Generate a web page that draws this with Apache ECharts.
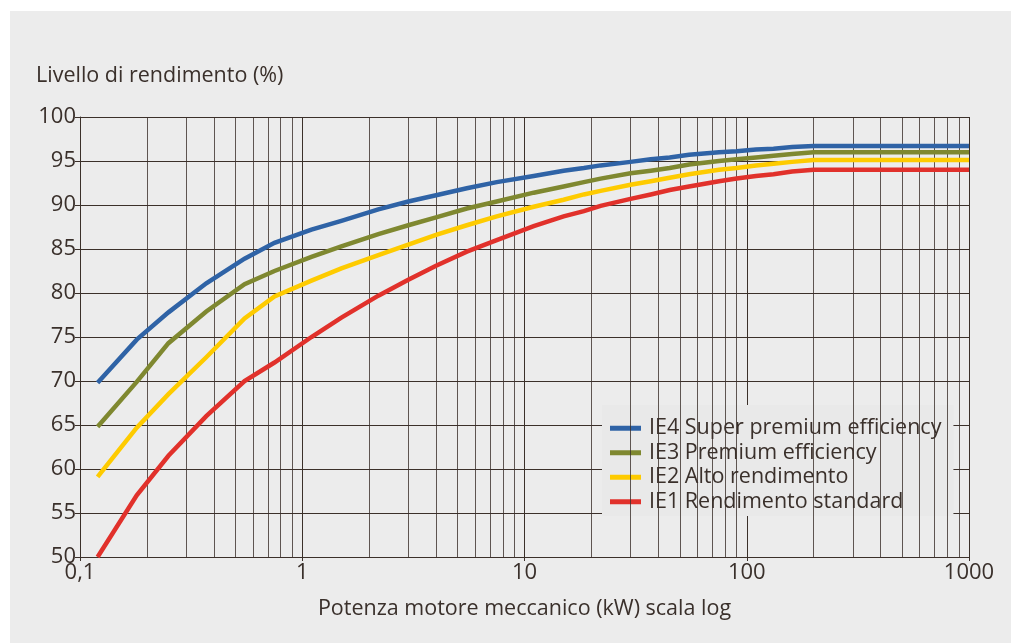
<!DOCTYPE html>
<html>
<head>
<meta charset="utf-8">
<script src="https://cdn.jsdelivr.net/npm/echarts@6/dist/echarts.min.js"></script>
<style>
  html, body { margin: 0; padding: 0; background: #ffffff; }
  #panel { position: absolute; left: 10px; top: 11px; width: 1001px; height: 632px; background: #ececec; }
  #chart { position: absolute; left: 0; top: 0; width: 1011px; height: 643px; }
</style>
</head>
<body>
<div id="panel"></div>
<div id="chart"></div>
<script>
// Rated motor power (kW)
const powers = [0.12, 0.18, 0.25, 0.37, 0.55, 0.75, 1.1, 1.5, 2.2, 3, 4, 5.5, 7.5, 11, 15, 18.5, 22, 30, 37, 45, 55, 75, 90, 110, 132, 160, 200, 1000];
// Efficiency levels (%)
const ie4 = [69.8, 74.7, 77.8, 81.1, 83.9, 85.7, 87.2, 88.2, 89.5, 90.4, 91.1, 91.9, 92.6, 93.3, 93.9, 94.2, 94.5, 94.9, 95.2, 95.4, 95.7, 96.0, 96.1, 96.3, 96.4, 96.6, 96.7, 96.7];
const ie3 = [64.8, 69.9, 74.3, 77.9, 81.0, 82.5, 84.1, 85.3, 86.7, 87.7, 88.6, 89.6, 90.4, 91.4, 92.1, 92.6, 93.0, 93.6, 93.9, 94.2, 94.6, 95.0, 95.2, 95.4, 95.6, 95.8, 96.0, 96.0];
const ie2 = [59.1, 64.7, 68.5, 72.7, 77.1, 79.6, 81.4, 82.8, 84.3, 85.5, 86.6, 87.7, 88.7, 89.8, 90.6, 91.2, 91.6, 92.3, 92.7, 93.1, 93.5, 94.0, 94.2, 94.5, 94.7, 94.9, 95.1, 95.1];
const ie1 = [50.0, 57.0, 61.5, 66.0, 70.0, 72.1, 75.0, 77.2, 79.7, 81.5, 83.1, 84.7, 86.0, 87.6, 88.7, 89.3, 89.9, 90.7, 91.2, 91.7, 92.1, 92.7, 93.0, 93.3, 93.5, 93.8, 94.0, 94.0];

const seriesNames = ['IE4 Super premium efficiency', 'IE3 Premium efficiency', 'IE2 Alto rendimento', 'IE1 Rendimento standard'];
const seriesColors = ['#2f63a6', '#7f8830', '#fecb00', '#e1312b'];
const seriesValues = [ie4, ie3, ie2, ie1];

// Log-scale minor grid positions
const minorTicks = [0.2,0.3,0.4,0.5,0.6,0.7,0.8,0.9, 2,3,4,5,6,7,8,9, 20,30,40,50,60,70,80,90, 200,300,400,500,600,700,800,900];

const yTitle = 'Livello di rendimento (%)';
const xTitle = 'Potenza motore meccanico (kW) scala log';

const textColor = '#3a302b';
const gridColor = '#3b302a';
const fontFamily = '"Open Sans", "Noto Sans", sans-serif';

const chart = echarts.init(document.getElementById('chart'), null, { renderer: 'canvas' });

const series = seriesNames.map((name, i) => ({
  name: name,
  type: 'line',
  data: powers.map((p, j) => [p, seriesValues[i][j]]),
  showSymbol: false,
  symbol: 'none',
  smooth: false,
  z: 5,
  lineStyle: { width: 4.5, color: seriesColors[i], cap: 'butt', join: 'miter' },
  itemStyle: { color: seriesColors[i] }
}));

series.push({
  name: 'minorGrid',
  type: 'line',
  data: [],
  z: 1,
  silent: true,
  markLine: {
    silent: true,
    symbol: ['none', 'none'],
    label: { show: false },
    lineStyle: { color: gridColor, width: 1, type: 'solid', opacity: 0.8 },
    emphasis: { disabled: true },
    animation: false,
    data: minorTicks.map(v => ({ xAxis: v }))
  }
});

chart.setOption({
  backgroundColor: 'transparent',
  animation: false,
  textStyle: { fontFamily: fontFamily, color: textColor },
  title: {
    text: yTitle,
    left: 31,
    top: 60,
    textStyle: { fontFamily: fontFamily, fontSize: 21.5, fontWeight: 'normal', color: textColor }
  },
  grid: { left: 80, top: 117, right: 42, bottom: 86, containLabel: false },
  legend: {
    data: seriesNames,
    orient: 'vertical',
    left: 602,
    top: 405,
    backgroundColor: '#e9e9e9',
    padding: [12, 12, 3, 8],
    itemGap: 2,
    itemWidth: 31,
    itemHeight: 5,
    icon: 'rect',
    selectedMode: false,
    textStyle: { fontFamily: fontFamily, fontSize: 21.5, color: textColor, lineHeight: 22.5, padding: [0, 0, 0, 3] }
  },
  xAxis: {
    type: 'log',
    logBase: 10,
    min: 0.1,
    max: 1000,
    name: xTitle,
    nameLocation: 'middle',
    nameGap: 41,
    nameTextStyle: { fontFamily: fontFamily, fontSize: 21.5, color: textColor },
    axisLine: { show: true, lineStyle: { color: gridColor, width: 1 } },
    axisTick: { show: true, length: 4, lineStyle: { color: gridColor } },
    axisLabel: {
      fontFamily: fontFamily, fontSize: 22, color: textColor, margin: 5,
      formatter: v => String(v).replace('.', ',')
    },
    splitLine: { show: true, lineStyle: { color: gridColor, width: 1 } }
  },
  yAxis: {
    type: 'value',
    min: 50,
    max: 100,
    interval: 5,
    axisLine: { show: true, lineStyle: { color: gridColor, width: 1 } },
    axisTick: { show: true, length: 5, lineStyle: { color: gridColor } },
    axisLabel: { fontFamily: fontFamily, fontSize: 22, color: textColor, margin: 4 },
    splitLine: { show: true, lineStyle: { color: gridColor, width: 1 } }
  },
  series: series
});
</script>
</body>
</html>
